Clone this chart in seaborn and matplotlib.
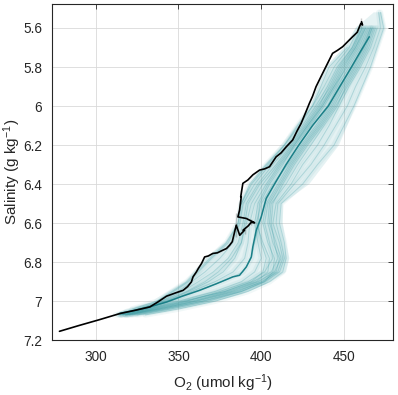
import numpy as np
import pandas as pd
import matplotlib
matplotlib.use("Agg")
import matplotlib.pyplot as plt
from matplotlib.ticker import FuncFormatter
import seaborn as sns

# observed profile (black line): O2 vs salinity
obs_o2 = [278.1, 290.0, 302.0, 314.6, 324.0, 332.7, 337.5, 342.8, 348.0, 352.8, 355.5, 357.8,
          358.8, 360.8, 362.0, 363.9, 365.8, 368.0, 370.8, 373.5, 376.9, 379.0, 380.9, 382.5,
          384.9, 387.0, 389.9, 389.0, 389.9, 392.0, 394.0, 396.0, 394.0, 391.0, 385.9, 384.9,
          386.9, 387.9, 387.6, 387.9, 388.9, 391.9, 395.0, 399.0, 402.0, 405.0, 409.0, 412.0,
          415.1, 419.0, 421.5, 424.1, 426.5, 429.1, 431.0, 433.1, 437.1, 440.1, 443.1, 446.0,
          449.2, 452.0, 455.2, 458.0, 460.2, 461.2, 460.6, 460.2]
obs_sal = [7.154, 7.124, 7.095, 7.063, 7.046, 7.029, 7.004, 6.974, 6.958, 6.944, 6.925, 6.901,
           6.875, 6.850, 6.832, 6.807, 6.773, 6.768, 6.755, 6.752, 6.738, 6.730, 6.713, 6.695,
           6.670, 6.662, 6.653, 6.636, 6.619, 6.615, 6.610, 6.598, 6.581, 6.576, 6.568, 6.550,
           6.533, 6.500, 6.465, 6.431, 6.396, 6.379, 6.352, 6.328, 6.322, 6.311, 6.260, 6.240,
           6.209, 6.174, 6.130, 6.089, 6.040, 5.986, 5.950, 5.901, 5.832, 5.781, 5.730, 5.715,
           5.696, 5.672, 5.645, 5.622, 5.602, 5.585, 5.568, 5.550]

# ensemble mean (dark teal line)
mean_o2 = [465.3, 460.0, 454.5, 447.5, 440.5, 431.0, 422.7, 415.0, 408.0, 403.0, 400.0, 397.0,
           394.9, 394.0, 391.0, 386.9, 382.9, 373.0, 362.8, 352.0, 342.8, 332.7, 324.0, 314.7]
mean_sal = [5.645, 5.720, 5.800, 5.900, 6.000, 6.100, 6.200, 6.300, 6.400, 6.473, 6.568, 6.636,
            6.722, 6.773, 6.824, 6.867, 6.875, 6.910, 6.944, 6.975, 7.004, 7.029, 7.046, 7.062]

# ensemble members, O2 read at common salinity levels
member_sal = [5.52, 5.60, 5.70, 5.80, 5.90, 6.00, 6.10, 6.20, 6.30, 6.40,
              6.50, 6.60, 6.70, 6.78, 6.85, 6.90, 6.95, 7.00, 7.04, 7.07]
nan = np.nan
members_o2 = [
    [471, 472, 468, 463, 457, 452, 445, 438, 430, 420, 410, 409, 412, 414, 411, 402, 388, 368, 345, 325],
    [nan, 468, 464, 458, 451, 446, 438, 430, 422, 415, 406, 405, 409, 412, 408, 398, 382, 360, 338, 318],
    [nan, 465, 460, 453, 446, 440, 431, 423, 415, 408, 402, 399, 396, 394, 389, 376, 360, 343, 326, 314],
    [nan, 460, 455, 446, 440, 433, 425, 416, 405, 396, 389, 387, 383, 375, 366, 358, 350, 340, 325, nan],
    [nan, 462, 457, 449, 443, 436, 428, 419, 410, 401, 394, 391, 388, 382, 374, 366, 355, 342, 330, 316],
    [472, 474, 470, 466, 461, 456, 450, 444, 434, 425, 412, 411, 414, 415, 413, 405, 392, 372, 350, 330],
    [nan, 467, 462, 456, 449, 443, 435, 426, 418, 411, 404, 402, 405, 407, 402, 392, 375, 355, 335, 318],
    [nan, 463, 458, 451, 445, 438, 430, 421, 412, 404, 398, 396, 398, 400, 396, 388, 372, 350, 330, 315],
    [nan, nan, 452, 441, 436, 431, 422, 414, 404, 394, 388, 386, 380, 370, 362, 356, 347, 337, nan, nan],
    [nan, 470, 466, 460, 453, 447, 441, 434, 425, 418, 409, 407, 411, 413, 410, 400, 386, 364, 342, 322],
    [nan, 466, 461, 455, 447, 441, 433, 424, 416, 407, 400, 397, 401, 405, 404, 397, 380, 358, 336, 318],
    [nan, 464, 459, 452, 444, 437, 429, 420, 411, 403, 396, 393, 392, 390, 383, 372, 358, 345, 328, 312],
    [nan, 469, 465, 459, 452, 445, 437, 428, 420, 413, 407, 406, 408, 410, 406, 395, 378, 352, 332, 316],
    [nan, 461, 456, 448, 442, 434, 426, 417, 407, 398, 391, 389, 386, 380, 371, 362, 352, 341, 327, nan],
    [nan, 459, 453, 444, 438, 431, 423, 414, 403, 393, 388, 386, 379, 369, 361, 355, 346, 337, 322, nan],
    [nan, 466, 462, 455, 448, 442, 434, 425, 417, 410, 403, 401, 404, 408, 407, 402, 388, 365, 340, 320],
    [nan, 463, 457, 450, 444, 437, 428, 420, 413, 405, 399, 398, 400, 403, 401, 394, 378, 354, 333, 315],
    [nan, 461, 455, 447, 441, 435, 427, 418, 409, 399, 392, 390, 388, 384, 377, 368, 356, 343, 329, 314],
    [nan, 467, 463, 457, 450, 444, 436, 427, 419, 412, 405, 404, 407, 411, 409, 401, 384, 361, 338, 319],
]

# outer envelope of the ensemble cloud
env_left_o2 = [468, 457, 450, 439, 434, 430, 421, 413, 402, 393, 387, 386, 378, 366, 359, 354, 344, 336, 318, 311]
env_right_o2 = [473, 475, 471, 467, 462, 457, 452, 447, 438, 429, 413, 413, 415, 417, 415, 406, 392, 373, 350, 330]

x_ticks = [300, 350, 400, 450]
y_ticks = [5.6, 5.8, 6.0, 6.2, 6.4, 6.6, 6.8, 7.0, 7.2]

sns.set_theme(style="white")
plt.rcParams["font.family"] = ["Liberation Sans", "DejaVu Sans"]
plt.rcParams["mathtext.default"] = "regular"

rows = []
for i, xs in enumerate(members_o2):
    for x, s in zip(xs, member_sal):
        if not np.isnan(x):
            rows.append({"member": i, "o2": x, "sal": s})
ens = pd.DataFrame(rows)

fig = plt.figure(figsize=(3.98, 3.95), dpi=100)
ax = fig.add_axes([0.1307, 0.1385, 0.8567, 0.8505])

teal = "#3a9ca3"
ax.fill(env_left_o2 + env_right_o2[::-1], member_sal + member_sal[::-1],
        color=teal, alpha=0.13, lw=0)
sns.lineplot(data=ens, x="o2", y="sal", units="member", estimator=None, sort=False,
             color=teal, alpha=0.07, lw=4, ax=ax, legend=False)
sns.lineplot(data=ens, x="o2", y="sal", units="member", estimator=None, sort=False,
             color=teal, alpha=0.28, lw=0.7, ax=ax, legend=False)

sns.lineplot(x=mean_o2, y=mean_sal, sort=False, color="#1a7f87", lw=1.1, ax=ax)
sns.lineplot(x=obs_o2, y=obs_sal, sort=False, color="black", lw=1.2, ax=ax)

ax.set_xlim(273.6, 479.6)
ax.set_ylim(7.2, 5.479)
ax.set_xticks(x_ticks)
ax.set_yticks(y_ticks)
ax.yaxis.set_major_formatter(FuncFormatter(lambda v, p: f"{v:g}"))
ax.grid(True, color="#d9d9d9", lw=0.6)
ax.set_axisbelow(True)
ax.tick_params(direction="in", top=True, right=True, length=3.5, width=0.6,
               colors="#262626", labelsize=9.8, pad=7)
for sp in ax.spines.values():
    sp.set_color("#262626")
    sp.set_linewidth(0.8)

ax.set_xlabel("O$_2$ (umol kg$^{-1}$)", fontsize=11, color="#262626", labelpad=6)
ax.set_ylabel("Salinity (g kg$^{-1}$)", fontsize=11, color="#262626")
ax.yaxis.set_label_coords(-0.085, 0.5)

fig.savefig("out.png", dpi=100)
